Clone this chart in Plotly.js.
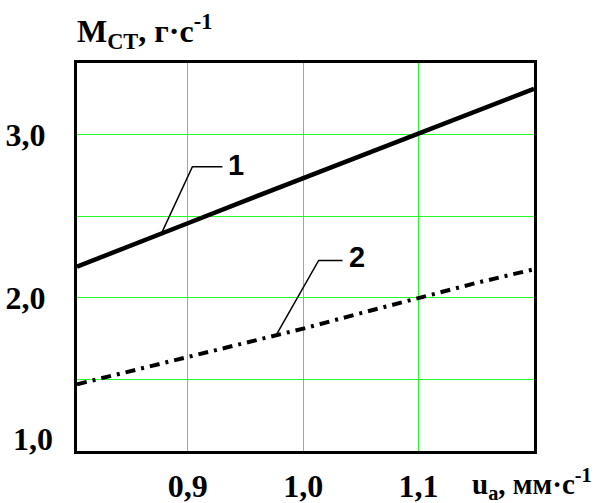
<!DOCTYPE html>
<html>
<head>
<meta charset="utf-8">
<script src="https://cdn.plot.ly/plotly-3.0.1.min.js"></script>
<style>html,body{margin:0;padding:0;background:#fff;}#chart{width:601px;height:503px;}</style>
</head>
<body>
<div id="chart"></div>
<script>
// Data
const xValues = [0.804, 0.85, 0.9, 0.95, 1.0, 1.05, 1.1, 1.15, 1.2];
const curve1 = [2.19, 2.32, 2.456, 2.595, 2.733, 2.87, 3.011, 3.145, 3.28];
const curve2 = [1.469, 1.55, 1.634, 1.72, 1.81, 1.905, 2.0, 2.09, 2.174];

// Leader lines for the curve labels
const leader1X = [0.877, 0.904, 0.930];
const leader1Y = [2.391, 2.802, 2.802];
const leader2X = [0.9767, 1.0134, 1.0341];
const leader2Y = [1.771, 2.228, 2.228];
const curveLabels = ['1', '2'];
const curveLabelX = [0.942, 1.0467];
const curveLabelY = [2.814, 2.247];

// Axis ticks
const xTickVals = [0.9, 1.0, 1.1];
const xTickText = ['0,9', '1,0', '1,1'];
const yTickVals = [1.5, 2.0, 2.5, 3.0];
const yTickText = [' ', '2,0', ' ', '3,0'];
const yBottomLabel = '1,0';
const yTitle = 'М<sub>СТ</sub>, г·с<sup>-1</sup>';
const xTitle = 'u<sub>a</sub>, мм·с<sup>-1</sup>';

const serif = {family: 'Liberation Serif, Times New Roman, serif', size: 32, color: '#000', weight: 'bold'};
const sans = {family: 'Liberation Sans, Arial, sans-serif', size: 29, color: '#000', weight: 'bold'};

const traces = [
  {x: xValues, y: curve1, mode: 'lines', line: {color: '#000', width: 4.5}, hoverinfo: 'skip'},
  {x: xValues, y: curve2, mode: 'lines', line: {color: '#000', width: 4, dash: '10px,6px,3px,6px'}, hoverinfo: 'skip'},
  {x: leader1X, y: leader1Y, mode: 'lines', line: {color: '#000', width: 1.5}, hoverinfo: 'skip'},
  {x: leader2X, y: leader2Y, mode: 'lines', line: {color: '#000', width: 1.5}, hoverinfo: 'skip'}
];

const annotations = curveLabels.map((t, i) => ({
  x: curveLabelX[i], y: curveLabelY[i], xref: 'x', yref: 'y', text: t,
  showarrow: false, font: sans, xanchor: 'center', yanchor: 'middle'
}));
annotations.push({x: 0, y: 0, xref: 'paper', yref: 'paper', text: yBottomLabel, showarrow: false,
  font: serif, xanchor: 'right', yanchor: 'middle', xshift: -22, yshift: 12});
annotations.push({x: 0, y: 1, xref: 'paper', yref: 'paper', text: yTitle, showarrow: false,
  font: serif, xanchor: 'left', yanchor: 'middle', xshift: -2, yshift: 32});
annotations.push({x: (470 - 77) / 457, y: 0, xref: 'paper', yref: 'paper', text: xTitle, showarrow: false,
  font: Object.assign({}, serif, {size: 29}), xanchor: 'left', yanchor: 'middle', yshift: -33});

const layout = {
  width: 601, height: 503,
  margin: {l: 77, r: 67, t: 63, b: 52},
  paper_bgcolor: '#fff', plot_bgcolor: '#fff',
  showlegend: false,
  xaxis: {
    range: [0.804, 1.2], tickvals: xTickVals, ticktext: xTickText,
    showgrid: true, gridcolor: '#22ff22', gridwidth: 1, zeroline: false,
    showline: true, linecolor: '#000', linewidth: 3, mirror: true,
    ticks: '', tickfont: serif, ticklabelstandoff: 5
  },
  yaxis: {
    range: [1.06, 3.438], tickvals: yTickVals, ticktext: yTickText,
    showgrid: true, gridcolor: '#22ff22', gridwidth: 1, zeroline: false,
    showline: true, linecolor: '#000', linewidth: 3, mirror: true,
    ticks: '', tickfont: serif, ticklabelstandoff: 22
  },
  annotations: annotations
};

Plotly.newPlot('chart', traces, layout, {staticPlot: true, displayModeBar: false});
</script>
</body>
</html>
